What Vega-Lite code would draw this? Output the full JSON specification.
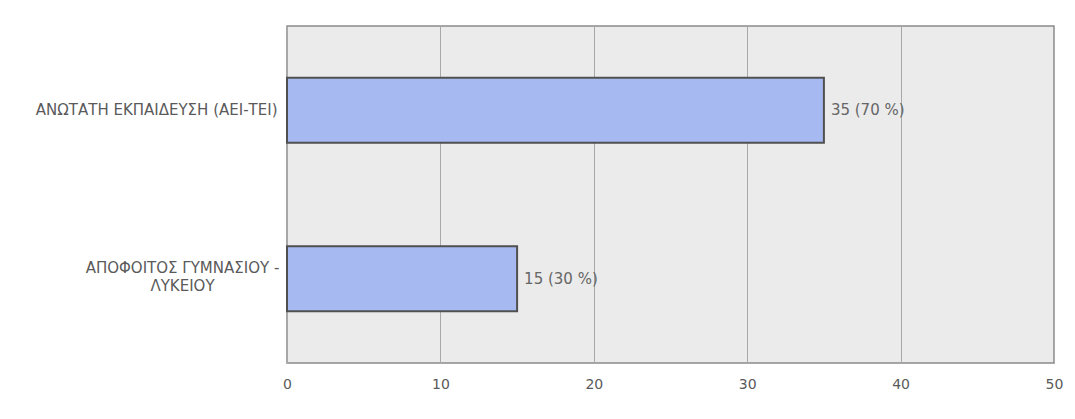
{
  "$schema": "https://vega.github.io/schema/vega-lite/v6.json",
  "width": 767,
  "height": 337,
  "autosize": "none",
  "padding": {"left": 287, "top": 26, "right": 21, "bottom": 56},
  "background": "#ffffff",
  "config": {
    "font": "DejaVu Sans",
    "view": {"fill": "#ebebeb", "stroke": "#8a8a8a", "strokeWidth": 1.5}
  },
  "data": {
    "values": [
      {"category": "ΑΝΩΤΑΤΗ ΕΚΠΑΙΔΕΥΣΗ (ΑΕΙ-ΤΕΙ)", "count": 35, "label": "35 (70 %)"},
      {"category": "ΑΠΟΦΟΙΤΟΣ ΓΥΜΝΑΣΙΟΥ - ΛΥΚΕΙΟΥ", "count": 15, "label": "15 (30 %)"}
    ]
  },
  "encoding": {
    "y": {
      "field": "category",
      "type": "nominal",
      "sort": null,
      "scale": {"paddingInner": 0.614, "paddingOuter": 0.307},
      "axis": {
        "title": null,
        "domain": false,
        "ticks": false,
        "labelFont": "DejaVu Sans",
        "labelFontSize": 15,
        "labelColor": "#5a5a5a",
        "labelLimit": 400,
        "labelExpr": "datum.value == 'ΑΠΟΦΟΙΤΟΣ ΓΥΜΝΑΣΙΟΥ - ΛΥΚΕΙΟΥ' ? ['ΑΠΟΦΟΙΤΟΣ ΓΥΜΝΑΣΙΟΥ -', 'ΛΥΚΕΙΟΥ'] : datum.value",
        "labelAlign": {"condition": {"test": "datum.value == 'ΑΠΟΦΟΙΤΟΣ ΓΥΜΝΑΣΙΟΥ - ΛΥΚΕΙΟΥ'", "value": "center"}, "value": "right"},
        "labelPadding": {"condition": {"test": "datum.value == 'ΑΠΟΦΟΙΤΟΣ ΓΥΜΝΑΣΙΟΥ - ΛΥΚΕΙΟΥ'", "value": 105}, "value": 10},
        "labelOffset": {"condition": {"test": "datum.value == 'ΑΠΟΦΟΙΤΟΣ ΓΥΜΝΑΣΙΟΥ - ΛΥΚΕΙΟΥ'", "value": -11}, "value": 0},
        "labelLineHeight": 18
      }
    },
    "x": {
      "field": "count",
      "type": "quantitative",
      "scale": {"domain": [0, 50], "nice": false},
      "axis": {
        "title": null,
        "values": [0, 10, 20, 30, 40, 50],
        "grid": true,
        "gridColor": "#a8a8a8",
        "gridWidth": 1,
        "domain": false,
        "ticks": false,
        "labelPadding": 14,
        "labelFont": "DejaVu Sans",
        "labelFontSize": 14,
        "labelColor": "#5a5a5a",
        "labelFlush": false,
        "labelOverlap": false
      }
    }
  },
  "layer": [
    {
      "mark": {"type": "bar", "fill": "#a6b9f0", "stroke": "#505050", "strokeWidth": 2}
    },
    {
      "mark": {"type": "text", "align": "left", "dx": 7, "fontSize": 15, "color": "#666666", "font": "DejaVu Sans"},
      "encoding": {
        "text": {"field": "label"}
      }
    }
  ]
}
